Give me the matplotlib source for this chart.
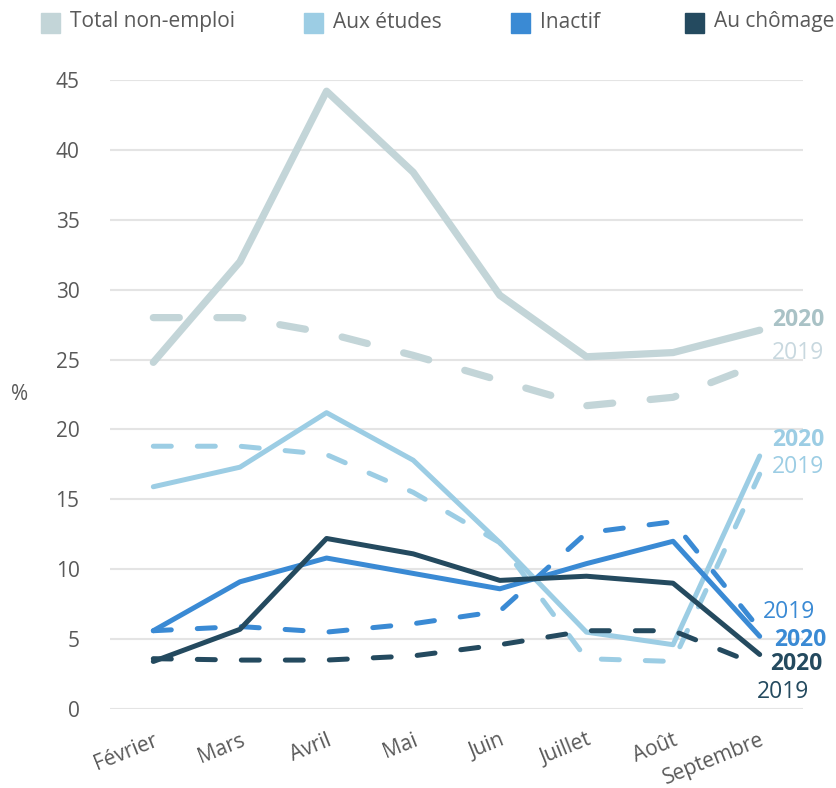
import matplotlib
matplotlib.use('Agg')
from matplotlib import pyplot as plt
from matplotlib.patches import Rectangle

plt.rcParams['font.family'] = ['Open Sans', 'DejaVu Sans']

mois = ['Février', 'Mars', 'Avril', 'Mai', 'Juin', 'Juillet', 'Août', 'Septembre']

# % of youth not employed, by status
total_2020 = [24.8, 32.0, 44.2, 38.4, 29.6, 25.2, 25.5, 27.1]
total_2019 = [28.0, 28.0, 26.9, 25.3, 23.5, 21.7, 22.3, 24.7]
etudes_2020 = [15.9, 17.3, 21.2, 17.8, 11.9, 5.5, 4.6, 18.1]
etudes_2019 = [18.8, 18.8, 18.2, 15.5, 11.9, 3.6, 3.4, 16.8]
inactif_2020 = [5.6, 9.1, 10.8, 9.7, 8.6, 10.4, 12.0, 5.2]
inactif_2019 = [5.6, 5.9, 5.5, 6.1, 7.0, 12.6, 13.4, 5.7]
chomage_2020 = [3.4, 5.7, 12.2, 11.1, 9.2, 9.5, 9.0, 3.9]
chomage_2019 = [3.6, 3.5, 3.5, 3.8, 4.6, 5.6, 5.6, 3.1]

series_names = ['Total non-emploi', 'Aux études', 'Inactif', 'Au chômage']
colors = ['#c3d5d8', '#9ccde4', '#3a8ad4', '#244a5f']
label_2020_colors = ['#a9c2c6', '#9ccde4', '#3a8ad4', '#244a5f']
label_2019_colors = ['#c8d8df', '#9ccde4', '#3a8ad4', '#244a5f']
widths = [5.2, 3.6, 3.6, 3.6]
txt_color = '#595959'

fig = plt.figure(figsize=(8.36, 7.88), dpi=100)
ax = fig.add_axes([110/836, 79/788, 693/836, 629/788])

x = list(range(len(mois)))
data = [(total_2020, total_2019), (etudes_2020, etudes_2019),
        (inactif_2020, inactif_2019), (chomage_2020, chomage_2019)]

for i, (y20, y19) in enumerate(data):
    l19, = ax.plot(x, y19, color=colors[i], lw=widths[i], linestyle='--',
                   dash_capstyle='round', zorder=3 + 2*i)
    l19.set_dashes((3.6, 5.2))
    ax.plot(x, y20, color=colors[i], lw=widths[i], solid_capstyle='round',
            zorder=4 + 2*i)

# end labels, offsets in pixels from last point: (2020), (2019)
lab = [((12, 10), (12, 11)),
       ((12, 16), (12, 7)),
       ((14, -4), (3, 17)),
       ((10, -10), (-3, -26))]
for i, (y20, y19) in enumerate(data):
    (dx20, dy20), (dx19, dy19) = lab[i]
    ax.annotate('2020', (x[-1], y20[-1]), xytext=(dx20, dy20), textcoords='offset pixels',
                fontsize=16.5, fontweight='bold', color=label_2020_colors[i],
                ha='left', va='center', annotation_clip=False)
    ax.annotate('2019', (x[-1], y19[-1]), xytext=(dx19, dy19), textcoords='offset pixels',
                fontsize=16.5, color=label_2019_colors[i],
                ha='left', va='center', annotation_clip=False)

ax.set_xlim(-0.5, 7.5)
ax.set_ylim(0, 45)
ax.set_yticks(range(0, 46, 5))
ax.set_xticks(x)
ax.set_xticklabels(mois, rotation=22, ha='right', va='top', rotation_mode='anchor')
ax.tick_params(axis='both', length=0, labelsize=15, colors=txt_color)
ax.tick_params(axis='y', pad=22)
ax.tick_params(axis='x', pad=15)
ax.grid(axis='y', color='#e4e4e4', lw=1.5)
ax.set_axisbelow(True)
for s in ax.spines.values():
    s.set_visible(False)
fig.text(20/836, 1 - 395/788, '%', fontsize=15, color=txt_color, ha='center', va='center')

# legend across the top
leg_x = [41, 304, 511, 685]
for name, c, lx in zip(series_names, colors, leg_x):
    fig.patches.append(Rectangle((lx/836, 1 - 33/788), 19/836, 20/788,
                                 transform=fig.transFigure, color=c))
    fig.text((lx + 29)/836, 1 - 22/788, name, fontsize=15, color=txt_color,
             ha='left', va='center')

fig.savefig('out.png', dpi=100)
